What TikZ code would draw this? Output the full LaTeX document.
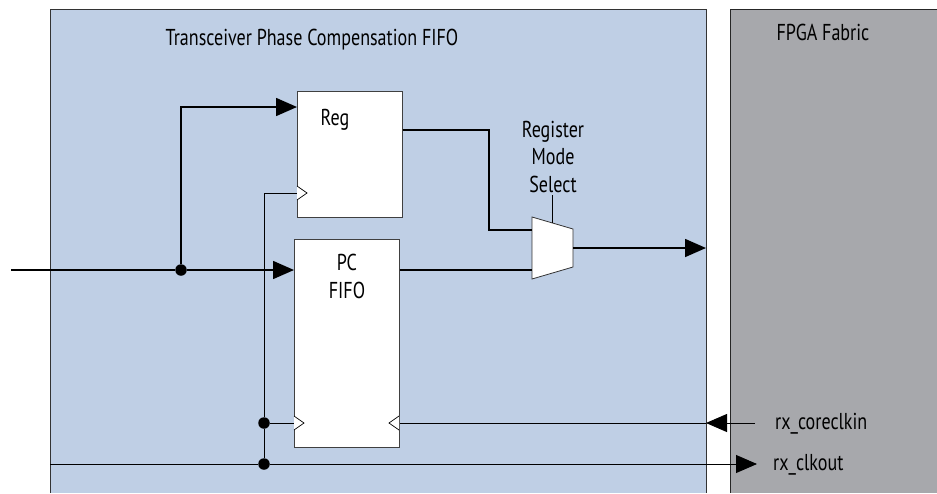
\documentclass[tikz,border=0pt]{standalone}
\usepackage{fontspec}
\setmainfont[FakeStretch=0.785]{PT Sans}
\usetikzlibrary{arrows.meta}
\definecolor{tblue}{RGB}{191,207,229}
\definecolor{fgray}{RGB}{167,168,172}
\tikzset{
  data/.style={line width=1.6pt},
  clk/.style={line width=0.9pt},
  big/.style={-{Triangle[length=21pt,width=18pt]}},
  box/.style={draw=black!75, fill=white, line width=0.8pt, inner sep=0pt, anchor=north west},
  dot/.style={circle, fill=black, inner sep=0pt, minimum size=11.5pt},
  lbl/.style={font=\fontsize{23}{27.5}\selectfont, inner sep=0pt},
  tri/.style={draw=black, fill=white, line width=0.7pt, line join=miter}
}
\begin{document}
\begin{tikzpicture}[x=1pt,y=-1pt]
\useasboundingbox (0,0) rectangle (937,493);
% regions
\fill[tblue] (50,9) rectangle (706,493);
\draw[black!80, line width=0.8pt] (50,493) -- (50,9) -- (706,9) -- (706,493);
\fill[fgray] (730,9) rectangle (937,493);
\draw[black!85, line width=0.8pt] (730,493) -- (730,9) -- (937,9);
\node[lbl, anchor=base] (title) at (312,45) {Transceiver Phase Compensation FIFO};
\node[lbl, anchor=base] (fpga) at (823,40) {FPGA Fabric};
% blocks
\node[box, minimum width=105pt, minimum height=126pt] (reg) at (297,91) {};
\node[lbl, anchor=base] (regt) at (335,125) {Reg};
\node[box, minimum width=105pt, minimum height=208pt] (fifo) at (294,239) {};
\node[lbl, anchor=base, align=center] (fifot) at (347,298) {PC\\FIFO};
% clock triangles
\draw[tri] (297,186) -- (307,193) -- (297,200);
\draw[tri] (294,416) -- (304,423) -- (294,430);
\draw[tri] (399,416) -- (389,423) -- (399,430);
% mux
\coordinate (mA) at (532,230);
\coordinate (mB) at (532,270);
\coordinate (mO) at (573,248);
\coordinate (mT) at (552,223);
\draw[black!80, fill=white, line width=0.8pt] (532,217) -- (573,229) -- (573,267) -- (532,279) -- cycle;
\node[lbl, anchor=base, align=center] (sel) at (553,192) {Register\\Mode\\Select};
\coordinate (selb) at (552,195);
\draw[line width=0.7pt] (selb) -- (mT);
% data paths
\coordinate (inL) at (11,270);
\node[dot] (j1) at (181,270) {};
\draw[data] (inL) -- (j1);
\draw[data,big] (j1) -- (fifo.west |- j1);
\draw[data,big] (j1) -- (181,107) -- (reg.west |- 0,107);
\draw[data] (reg.east |- 0,130) -- (489,130) -- (489,230) -- (mA);
\draw[data] (fifo.east |- 0,270) -- (mB);
\coordinate (outR) at (706,248);
\draw[data,big] (mO) -- (outR);
% clocks
\coordinate (ck0) at (50,464);
\node[dot] (j3) at (264,464) {};
\node[dot] (j2) at (264,423) {};
\coordinate (ckout) at (757,464);
\draw[clk] (ck0) -- (j3);
\draw[clk,big] (j3) -- (ckout);
\draw[clk] (j3) -- (j2) -- (264,193) -- (reg.west |- 0,193);
\draw[clk] (j2) -- (fifo.west |- j2);
\node[lbl, anchor=base west] (clkoutt) at (773,470) {rx\_clkout};
\coordinate (cin) at (755,423);
\coordinate (cinT) at (706,423);
\draw[clk] (fifo.east |- 0,423) -- (cinT);
\draw[clk,big] (cin) -- (cinT);
\node[lbl, anchor=base west] (cint) at (775,429) {rx\_coreclkin};
\end{tikzpicture}
\end{document}
